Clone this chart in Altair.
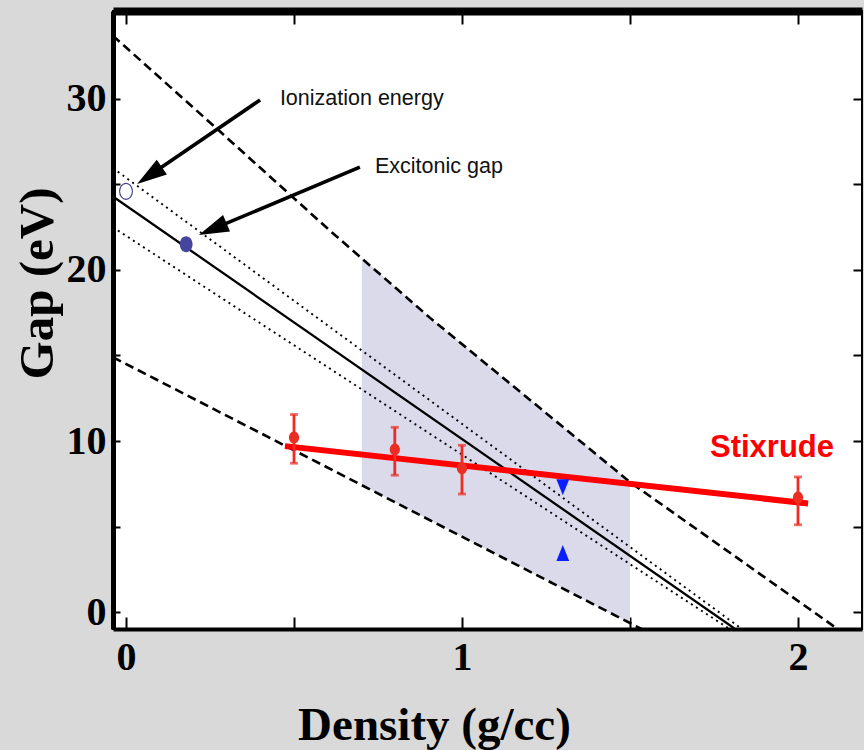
import math
import altair as alt
import pandas as pd

# ---------------- data ----------------
upper_dash_x = [-0.039, 0.274, 0.607, 0.905, 1.5, 2.12]
upper_dash_y = [33.7, 28.2, 22.3, 17.2, 7.6, -1.02]

lower_dash_x = [-0.039, 1.54]
lower_dash_y = [14.9, -1.05]

solid_x = [-0.039, 1.81]
solid_y = [24.3, -0.95]

dot_upper_x = [-0.039, 1.83]
dot_upper_y = [25.96, -0.95]

dot_lower_x = [-0.039, 1.80]
dot_lower_y = [22.5, -1.04]

shade_x = [0.702, 0.905, 1.5]
shade_top = [20.7, 17.2, 7.6]
shade_bottom = [7.42, 5.36, -0.64]

stix_fit_x = [0.473, 2.03]
stix_fit_y = [9.7, 6.35]

stix_x = [0.5, 0.8, 1.0, 2.0]
stix_y = [10.2, 9.5, 8.4, 6.7]
stix_lo = [8.7, 8.0, 6.9, 5.1]
stix_hi = [11.55, 10.8, 9.75, 7.9]

tri_x = [1.30]
tri_down_y = [7.3]
tri_up_y = [3.45]

ion_x, ion_y = [0.0], [24.6]
exc_x, exc_y = [0.179], [21.5]

arrow_tail_x = [0.399, 0.696]
arrow_tail_y = [29.94, 26.02]
arrow_tip_x = [0.033, 0.217]
arrow_tip_y = [25.03, 22.05]

label_text = ["Ionization energy", "Excitonic gap"]
label_x = [0.458, 0.741]
label_y = [29.65, 25.67]

stix_label = ["Stixrude"]
stix_label_x = [1.738]
stix_label_y = [9.06]

x_ticks = [0, 0.5, 1, 1.5, 2]
x_labels = [0, 1, 2]
y_ticks = [0, 5, 10, 15, 20, 25, 30]
y_labels = [0, 10, 20, 30]

# ---------------- layout ----------------
W, H = 749, 618
XD = [-0.0387, 2.1905]
YD = [-0.994, 35.146]
pxx = W / (XD[1] - XD[0])
pxy = H / (YD[1] - YD[0])

xs = alt.Scale(domain=XD, nice=False, zero=False)
ys = alt.Scale(domain=YD, nice=False, zero=False)

SERIF = "Liberation Serif"
SANS = "Liberation Sans"


def enc(ch, field, axis=None):
    if ch == "x":
        return alt.X(field, type="quantitative", scale=xs, axis=axis)
    return alt.Y(field, type="quantitative", scale=ys, axis=axis)


def line_layer(xv, yv, **mk):
    df = pd.DataFrame({"x": xv, "y": yv, "o": list(range(len(xv)))})
    return alt.Chart(df).mark_line(clip=True, **mk).encode(
        x=enc("x", "x"), y=enc("y", "y"), order="o:O")


layers = []

# shaded band
shade_df = pd.DataFrame({"x": shade_x, "top": shade_top, "bot": shade_bottom})
layers.append(alt.Chart(shade_df).mark_area(color="#dadaeb", opacity=1, clip=True).encode(
    x=enc("x", "x"), y=enc("y", "top"), y2="bot:Q"))

# black lines
layers.append(line_layer(upper_dash_x, upper_dash_y, color="black", strokeWidth=2.6, strokeDash=[9, 5]))
layers.append(line_layer(lower_dash_x, lower_dash_y, color="black", strokeWidth=2.6, strokeDash=[9, 5]))
layers.append(line_layer(dot_upper_x, dot_upper_y, color="black", strokeWidth=1.9, strokeDash=[2, 4]))
layers.append(line_layer(dot_lower_x, dot_lower_y, color="black", strokeWidth=1.9, strokeDash=[2, 4]))
layers.append(line_layer(solid_x, solid_y, color="black", strokeWidth=2.3))

# Stixrude
layers.append(line_layer(stix_fit_x, stix_fit_y, color="#ff0000", strokeWidth=6))
stix_df = pd.DataFrame({"x": stix_x, "y": stix_y, "lo": stix_lo, "hi": stix_hi})
ERR = "#ec2d24"
layers.append(alt.Chart(stix_df).mark_rule(color=ERR, strokeWidth=2.8).encode(
    x=enc("x", "x"), y=enc("y", "lo"), y2="hi:Q"))
layers.append(alt.Chart(stix_df).mark_tick(color=ERR, orient="horizontal", size=8, thickness=2.8).encode(
    x=enc("x", "x"), y=enc("y", "lo")))
layers.append(alt.Chart(stix_df).mark_tick(color=ERR, orient="horizontal", size=8, thickness=2.8).encode(
    x=enc("x", "x"), y=enc("y", "hi")))
ELLIPSE = "M0,-1A0.85,1 0 1,1 0,1A0.85,1 0 1,1 0,-1Z"
layers.append(alt.Chart(stix_df).mark_point(shape=ELLIPSE, filled=True, size=144, color=ERR, opacity=1).encode(
    x=enc("x", "x"), y=enc("y", "y")))

# blue triangles
tri_df = pd.DataFrame({"x": tri_x, "yd": tri_down_y, "yu": tri_up_y})
layers.append(alt.Chart(tri_df).mark_point(shape="M0,1L-0.8,-1L0.8,-1Z", filled=True, size=256,
                                           color="#0a1eff", opacity=1).encode(
    x=enc("x", "x"), y=enc("y", "yd")))
layers.append(alt.Chart(tri_df).mark_point(shape="M0,-1L-0.8,1L0.8,1Z", filled=True, size=256,
                                           color="#0a1eff", opacity=1).encode(
    x=enc("x", "x"), y=enc("y", "yu")))

# circles
ELL2 = "M0,-1A0.8,1 0 1,1 0,1A0.8,1 0 1,1 0,-1Z"
layers.append(alt.Chart(pd.DataFrame({"x": ion_x, "y": ion_y})).mark_point(
    shape=ELL2, filled=False, size=256, color="#3c3c8c", strokeWidth=1.1, opacity=1, fill="white", fillOpacity=1).encode(
    x=enc("x", "x"), y=enc("y", "y")))
layers.append(alt.Chart(pd.DataFrame({"x": exc_x, "y": exc_y})).mark_point(
    shape=ELL2, filled=True, size=256, color="#45459e", opacity=1).encode(
    x=enc("x", "x"), y=enc("y", "y")))

# arrows
HEAD_LEN = 30.0
shaft_end_x, shaft_end_y, angles = [], [], []
for tx, ty, hx, hy in zip(arrow_tail_x, arrow_tail_y, arrow_tip_x, arrow_tip_y):
    dx = (hx - tx) * pxx
    dy = -(hy - ty) * pxy
    L = math.hypot(dx, dy)
    ux, uy = dx / L, dy / L
    ex = hx - ux * (HEAD_LEN * 0.6) / pxx
    ey = hy + uy * (HEAD_LEN * 0.6) / pxy
    shaft_end_x.append(ex)
    shaft_end_y.append(ey)
    angles.append((math.degrees(math.atan2(dy, dx)) - 270) % 360)

arrow_df = pd.DataFrame({"tx": arrow_tail_x, "ty": arrow_tail_y, "ex": shaft_end_x, "ey": shaft_end_y,
                         "hx": arrow_tip_x, "hy": arrow_tip_y, "ang": angles})
layers.append(alt.Chart(arrow_df).mark_rule(color="black", strokeWidth=3.6).encode(
    x=enc("x", "tx"), y=enc("y", "ty"), x2="ex:Q", y2="ey:Q"))
layers.append(alt.Chart(arrow_df).mark_point(shape="M0,0L-0.3,1L0.3,1Z", filled=True, size=3600,
                                             color="black", opacity=1).encode(
    x=enc("x", "hx"), y=enc("y", "hy"), angle=alt.Angle("ang:Q", scale=None)))

# texts
lab_df = pd.DataFrame({"x": label_x, "y": label_y, "t": label_text})
layers.append(alt.Chart(lab_df).mark_text(align="left", baseline="alphabetic", font=SANS, fontSize=21.5,
                                          color="#111111").encode(
    x=enc("x", "x"), y=enc("y", "y"), text="t:N"))
st_df = pd.DataFrame({"x": stix_label_x, "y": stix_label_y, "t": stix_label})
layers.append(alt.Chart(st_df).mark_text(align="left", baseline="alphabetic", font=SANS,
                                         fontWeight="bold", fontSize=31, color="#ff0000").encode(
    x=enc("x", "x"), y=enc("y", "y"), text="t:N"))

# ---------------- axes (one invisible layer per axis) ----------------
dummy = pd.DataFrame({"x": stix_x, "y": stix_y})


def axis_layer(xaxis=None, yaxis=None):
    return alt.Chart(dummy).mark_point(opacity=0).encode(
        x=enc("x", "x", xaxis), y=enc("y", "y", yaxis))


common = dict(grid=False, labelOverlap=False, labelFlush=False)
ax_bottom_main = alt.Axis(orient="bottom", values=x_labels, domain=True, domainWidth=4, domainColor="black",
                          ticks=False, tickSize=0, labelFont=SERIF, labelFontWeight="bold", labelFontSize=40,
                          labelColor="black", labelPadding=8, format="d",
                          title="Density (g/cc)", titleFont=SERIF, titleFontWeight="bold", titleFontSize=47,
                          titleColor="black", titleX=321, titleY=110, titleAlign="center",
                          titleBaseline="alphabetic", **common)
ax_bottom_ticks = alt.Axis(orient="bottom", values=x_ticks, offset=-12, tickSize=12, tickWidth=2,
                           tickColor="black", domain=False, labels=False, title=None, **common)
ax_top_dom = alt.Axis(orient="top", values=x_ticks, domain=True, domainWidth=8, domainColor="black",
                      ticks=False, labels=False, title=None, **common)
ax_top_ticks = alt.Axis(orient="top", values=x_ticks, offset=-13, tickSize=13, tickWidth=2,
                        tickColor="black", domain=False, labels=False, title=None, **common)
ax_left_main = alt.Axis(orient="left", values=y_labels, domain=True, domainWidth=5, domainColor="black",
                        ticks=False, tickSize=0, labelFont=SERIF, labelFontWeight="bold", labelFontSize=40,
                        labelColor="black", labelPadding=7, format="d",
                        title="Gap (eV)", titleFont=SERIF, titleFontWeight="bold", titleFontSize=49,
                        titleColor="black", titleAngle=270, titleX=-61, titleY=272, titleAlign="center",
                        titleBaseline="alphabetic", **common)
ax_left_ticks = alt.Axis(orient="left", values=y_ticks, offset=-7, tickSize=7, tickWidth=2,
                         tickColor="black", domain=False, labels=False, title=None, **common)
ax_right_ticks = alt.Axis(orient="right", values=y_ticks, offset=-9, tickSize=9, tickWidth=2,
                          tickColor="black", domain=False, labels=False, title=None, **common)

layers.append(axis_layer(xaxis=ax_bottom_main))
layers.append(axis_layer(xaxis=ax_bottom_ticks))
layers.append(axis_layer(xaxis=ax_top_dom))
layers.append(axis_layer(xaxis=ax_top_ticks))
layers.append(axis_layer(yaxis=ax_left_main))
layers.append(axis_layer(yaxis=ax_left_ticks))
layers.append(axis_layer(yaxis=ax_right_ticks))

chart = alt.layer(*layers).resolve_axis(x="independent", y="independent").properties(
    width=W, height=H,
    padding={"left": 113, "top": 11, "right": 2, "bottom": 121},
    autosize=alt.AutoSizeParams(type="none"),
    background="#d9d9d9",
).configure_view(fill="white", stroke="black", strokeWidth=2)

chart.save("out.html", embed_options={"renderer": "svg", "actions": False})
